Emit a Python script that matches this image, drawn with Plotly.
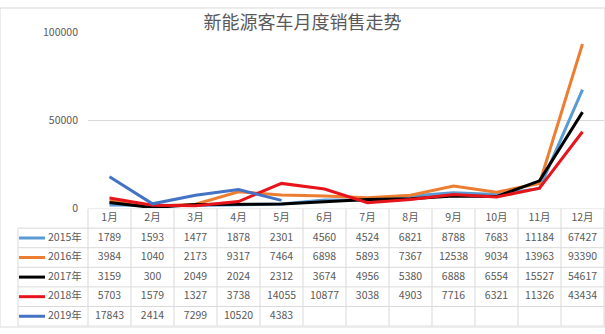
import plotly.graph_objects as go

months = ["1月", "2月", "3月", "4月", "5月", "6月", "7月", "8月", "9月", "10月", "11月", "12月"]
series_names = ["2015年", "2016年", "2017年", "2018年", "2019年"]
s2015 = [1789, 1593, 1477, 1878, 2301, 4560, 4524, 6821, 8788, 7683, 11184, 67427]
s2016 = [3984, 1040, 2173, 9317, 7464, 6898, 5893, 7367, 12538, 9034, 13963, 93390]
s2017 = [3159, 300, 2049, 2024, 2312, 3674, 4956, 5380, 6888, 6554, 15527, 54617]
s2018 = [5703, 1579, 1327, 3738, 14055, 10877, 3038, 4903, 7716, 6321, 11326, 43434]
s2019 = [17843, 2414, 7299, 10520, 4383]
colors = ["#5B9BD5", "#ED7D31", "#000000", "#E8141B", "#4472C4"]
y_ticks = [0, 50000, 100000]

all_series = [s2015, s2016, s2017, s2018, s2019]

W, H = 605, 334
X0, X1 = 88, 604          # plot / month-column span (px)
Y_ZERO, Y_TOP = 209.5, 25.5  # px for 0 and 100000
T_TOP, T_BOT = 210, 333    # table top/bottom px
LEG_L = 18                 # table left border px
n = len(months)
colw = (X1 - X0) / n

grid = "#D9D9D9"
txt = "#595959"
font_fam = "Noto Sans CJK SC, Noto Sans, sans-serif"
fs = 10.5

fig = go.Figure()

xi = list(range(n))
for name, vals, c in zip(series_names, all_series, colors):
    fig.add_trace(go.Scatter(x=xi[:len(vals)], y=vals, mode="lines", name=name,
                             line=dict(color=c, width=3), cliponaxis=False,
                             xaxis="x", yaxis="y", showlegend=False))

# table axes: x2 covers full width, aligned so month i is at i
x2_lo = -0.5 - X0 / colw
x2_hi = -0.5 + (W - X0) / colw
nrows = 1 + len(series_names)

# cell texts
for r, vals in enumerate(all_series):
    fig.add_trace(go.Scatter(x=xi[:len(vals)], y=[r + 1.5] * len(vals), mode="text",
                             text=[str(v) for v in vals], textposition="middle center",
                             textfont=dict(size=fs, color=txt, family=font_fam),
                             xaxis="x2", yaxis="y2", showlegend=False, cliponaxis=False,
                             hoverinfo="skip"))
# header
fig.add_trace(go.Scatter(x=xi, y=[0.5] * n, mode="text", text=months,
                         textposition="middle center",
                         textfont=dict(size=fs, color=txt, family=font_fam),
                         xaxis="x2", yaxis="y2", showlegend=False, cliponaxis=False,
                         hoverinfo="skip"))
# row labels
leg_line_l = -0.5 + (LEG_L + 1 - X0) / colw
leg_line_r = -0.5 + (45 - X0) / colw
leg_text_x = -0.5 + (48 - X0) / colw
fig.add_trace(go.Scatter(x=[leg_text_x] * len(series_names),
                         y=[r + 1.5 for r in range(len(series_names))], mode="text",
                         text=series_names, textposition="middle right",
                         textfont=dict(size=fs, color=txt, family=font_fam),
                         xaxis="x2", yaxis="y2", showlegend=False, cliponaxis=False,
                         hoverinfo="skip"))

shapes = []
leg_l = -0.5 + (LEG_L - X0) / colw
# horizontal table lines
shapes.append(dict(type="line", xref="x2", yref="y2", x0=-0.5, x1=n - 0.5, y0=0, y1=0,
                   line=dict(color=grid, width=1)))
for r in range(1, nrows + 1):
    shapes.append(dict(type="line", xref="x2", yref="y2", x0=leg_l, x1=n - 0.5, y0=r, y1=r,
                       line=dict(color=grid, width=1)))
# vertical lines
for k in range(n + 1):
    shapes.append(dict(type="line", xref="x2", yref="y2", x0=k - 0.5, x1=k - 0.5, y0=0, y1=nrows,
                       line=dict(color=grid, width=1)))
shapes.append(dict(type="line", xref="x2", yref="y2", x0=leg_l, x1=leg_l, y0=1, y1=nrows,
                   line=dict(color=grid, width=1)))
# legend keys
for r, c in enumerate(colors):
    shapes.append(dict(type="line", xref="x2", yref="y2", x0=leg_line_l, x1=leg_line_r,
                       y0=r + 1.5, y1=r + 1.5, line=dict(color=c, width=3)))
# chart border
shapes.append(dict(type="rect", xref="paper", yref="paper", x0=0, x1=1, y0=0, y1=1,
                   line=dict(color=grid, width=1)))

fig.update_layout(
    width=W, height=H, margin=dict(l=0, r=0, t=0, b=0),
    paper_bgcolor="white", plot_bgcolor="white",
    showlegend=False,
    title=dict(text="新能源客车月度销售走势", x=0.5, xanchor="center", y=1 - 23 / H, yanchor="middle",
               font=dict(size=18, color=txt, family=font_fam)),
    xaxis=dict(domain=[X0 / W, X1 / W], range=[-0.5, n - 0.5], showticklabels=False,
               showgrid=False, zeroline=False, showline=False, ticks=""),
    yaxis=dict(domain=[(H - Y_ZERO) / H, (H - Y_TOP) / H], range=[0, 100000],
               tickvals=y_ticks, ticktext=[str(v) for v in y_ticks],
               tickfont=dict(size=fs, color=txt, family=font_fam),
               gridcolor=grid, gridwidth=1, zeroline=False, showline=False,
               ticklabelstandoff=9),
    xaxis2=dict(domain=[0, 1], range=[x2_lo, x2_hi], visible=False, anchor="y2"),
    yaxis2=dict(domain=[(H - T_BOT) / H, (H - T_TOP) / H], range=[nrows, 0], visible=False,
                anchor="x2"),
    shapes=shapes,
)

fig.write_html("out.html")
